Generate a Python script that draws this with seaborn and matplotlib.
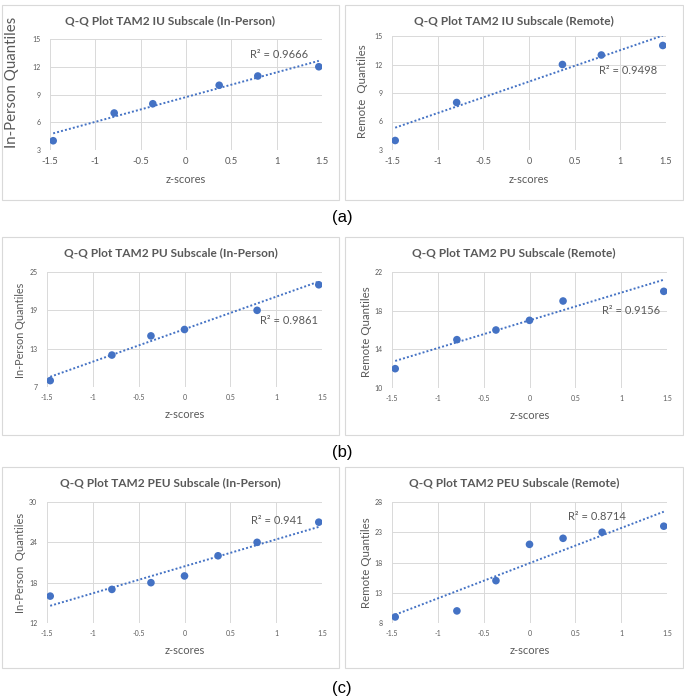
import numpy as np
import matplotlib
matplotlib.use("Agg")
import matplotlib.pyplot as plt
from matplotlib.patches import Rectangle
import seaborn as sns

# ----------------------------
# Data
# ----------------------------
z_scores = [-1.465, -0.792, -0.366, 0.0, 0.366, 0.792, 1.465]
x_ticks = [-1.5, -1, -0.5, 0, 0.5, 1, 1.5]
x_tick_labels = ["-1.5", "-1", "-0.5", "0", "0.5", "1", "1.5"]

# quantiles per panel (nan = no point drawn)
iu_inperson = [4, 7, 8, np.nan, 10, 11, 12]
iu_remote = [4, 8, np.nan, np.nan, 12, 13, 14]
pu_inperson = [8, 12, 15, 16, np.nan, 19, 23]
pu_remote = [12, 15, 16, 17, 19, np.nan, 20]
peu_inperson = [16, 17, 18, 19, 22, 24, 27]
peu_remote = [9, 10, 15, 21, 22, 23, 24]

# linear trendline, value at first and last z-score
trend_x = [-1.465, 1.465]
iu_inperson_trend = [4.8, 12.64]
iu_remote_trend = [5.35, 15.05]
pu_inperson_trend = [8.6, 23.5]
pu_remote_trend = [12.8, 21.2]
peu_inperson_trend = [14.56, 26.3]
peu_remote_trend = [9.37, 26.4]

titles = [
    "Q-Q Plot TAM2 IU Subscale (In-Person)",
    "Q-Q Plot TAM2 IU Subscale (Remote)",
    "Q-Q Plot TAM2 PU Subscale (In-Person)",
    "Q-Q Plot TAM2 PU Subscale (Remote)",
    "Q-Q Plot TAM2 PEU Subscale (In-Person)",
    "Q-Q Plot TAM2 PEU Subscale (Remote)",
]
y_labels = ["In-Person Quantiles", "Remote  Quantiles", "In-Person Quantiles",
            "Remote Quantiles", "In-Person  Quantiles", "Remote Quantiles"]
y_ticks = [[3, 6, 9, 12, 15], [3, 6, 9, 12, 15], [7, 13, 19, 25],
           [10, 14, 18, 22], [12, 18, 24, 30], [8, 13, 18, 23, 28]]
r2_labels = ["R² = 0.9666", "R² = 0.9498", "R² = 0.9861",
             "R² = 0.9156", "R² = 0.941", "R² = 0.8714"]
row_labels = ["(a)", "(b)", "(c)"]

values = [iu_inperson, iu_remote, pu_inperson, pu_remote, peu_inperson, peu_remote]
trends = [iu_inperson_trend, iu_remote_trend, pu_inperson_trend,
          pu_remote_trend, peu_inperson_trend, peu_remote_trend]

# ----------------------------
# Layout (pixels, top-left origin)
# ----------------------------
W, H = 684, 699
axes_px = [(50, 39, 322, 150), (392, 36, 666, 150),
           (47, 272, 322, 387), (392, 272, 667, 388),
           (47, 502, 322, 623), (392, 502, 667, 623)]
box_cols = [(2, 339), (345, 683)]
box_rows = [(5, 200), (237, 435), (467, 668)]
title_y = [21, 253, 483]
row_label_y = [218, 452, 689]
ylabel_x = [12, 362, 21, 367, 21, 366]
ylabel_y = [0.61, 0.52, 0.49, 0.49, 0.5, 0.5]
ylabel_size = [10.8, 8.3, 7.8, 8.3, 8, 8.3]
xtick_size = [6.8, 6.5, 5, 5, 5, 5]
r2_pos = [(0.736, 0.864), (0.757, 0.70), (0.775, 0.574),
          (0.763, 0.67), (0.741, 0.85), (0.639, 0.882)]

blue = "#4472C4"
grey_text = "#595959"
grid_col = "#D9D9D9"

sns.set_theme(style="white")
plt.rcParams["font.family"] = ["Lato", "DejaVu Sans"]

fig = plt.figure(figsize=(W / 100, H / 100), dpi=100)
fig.patch.set_facecolor("white")

# panel frames
for r, (y0, y1) in enumerate(box_rows):
    for (x0, x1) in box_cols:
        fig.add_artist(Rectangle((x0 / W, 1 - y1 / H), (x1 - x0) / W, (y1 - y0) / H,
                                 transform=fig.transFigure, fill=False,
                                 edgecolor=grid_col, lw=0.8))
    fig.text(342 / W, 1 - row_label_y[r] / H, row_labels[r], ha="center", va="center",
             fontsize=12, family=["Liberation Sans", "DejaVu Sans"], color="black")

for i in range(6):
    x0, y0, x1, y1 = axes_px[i]
    ax = fig.add_axes([x0 / W, 1 - y1 / H, (x1 - x0) / W, (y1 - y0) / H])
    ax.set_facecolor("white")

    sns.scatterplot(x=z_scores, y=values[i], ax=ax, color=blue, s=30,
                    edgecolor="none", zorder=3)
    sns.lineplot(x=trend_x, y=trends[i], ax=ax, color=blue, lw=1.4,
                 linestyle=(0, (1, 1.1)), zorder=2)

    ax.set_xlim(-1.5, 1.5)
    ax.set_ylim(y_ticks[i][0], y_ticks[i][-1])
    ax.set_xticks(x_ticks)
    ax.set_xticklabels(x_tick_labels, fontsize=xtick_size[i], color=grey_text)
    ax.set_yticks(y_ticks[i])
    ax.set_yticklabels([str(t) for t in y_ticks[i]], fontsize=5, color=grey_text)
    ax.tick_params(axis="both", length=0)
    ax.tick_params(axis="y", pad=7)
    ax.tick_params(axis="x", pad=5)
    ax.grid(True, color=grid_col, lw=0.7)
    for s in ax.spines.values():
        s.set_visible(False)

    ax.set_xlabel("z-scores", fontsize=8, color=grey_text, labelpad=6)
    ax.set_ylabel(y_labels[i], fontsize=ylabel_size[i], color=grey_text, va="center")
    ax.yaxis.set_label_coords((ylabel_x[i] - x0) / (x1 - x0), ylabel_y[i])

    ax.text(r2_pos[i][0], r2_pos[i][1], r2_labels[i], transform=ax.transAxes,
            ha="left", va="center", fontsize=8, color=grey_text)

    # title centred on the panel frame
    bx0, bx1 = box_cols[i % 2]
    fig.text((bx0 + bx1) / 2 / W, 1 - title_y[i // 2] / H, titles[i], ha="center",
             va="center", fontsize=8.6, fontweight="bold", color=grey_text)

fig.savefig("out.png", dpi=100)
